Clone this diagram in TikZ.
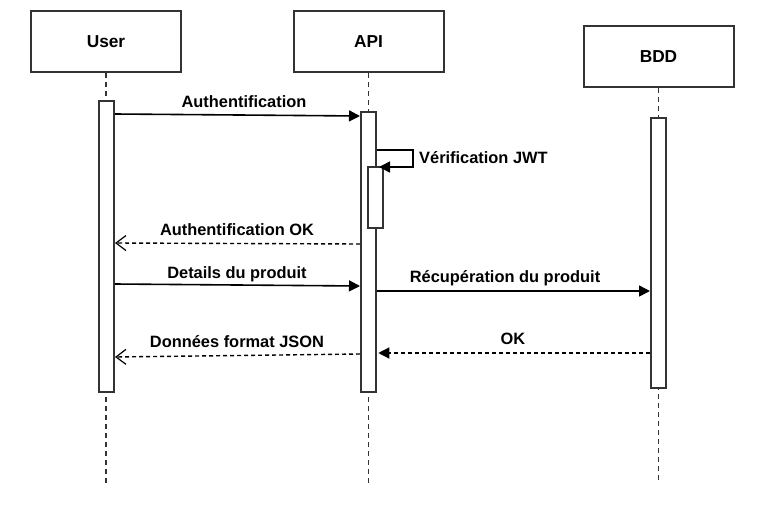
\documentclass[tikz,border=0pt]{standalone}
\usepackage{fontspec}
\setmainfont{Liberation Sans}
\usetikzlibrary{arrows.meta}
\definecolor{boxgray}{HTML}{333333}
\begin{document}
\begin{tikzpicture}[x=1pt,y=-1pt,
  actor/.style={draw=boxgray, line width=2pt, fill=white, minimum width=150pt, minimum height=61pt, inner sep=0pt, font=\bfseries\fontsize{17.3}{20}\selectfont},
  activ/.style={draw=boxgray, line width=2pt, fill=white, minimum width=15pt, inner sep=0pt},
  life/.style={draw=boxgray, line width=1.8pt, dash pattern=on 4.5pt off 4.5pt},
  msg/.style={draw=black, line width=1.6pt, -{Triangle[length=11pt,width=11pt]}},
  retopen/.style={draw=black, line width=1.4pt, dash pattern=on 4pt off 3pt, -{Straight Barb[length=10pt,width=15pt,line width=1.2pt]}},
  retfill/.style={draw=black, line width=1.4pt, dash pattern=on 4pt off 3pt, -{Triangle[length=11pt,width=11pt,sep]}},
  lbl/.style={inner sep=1pt, font=\bfseries\fontsize{16.4}{19}\selectfont}]
\useasboundingbox (0,0) rectangle (764,520);

% actors
\node[actor] (user) at (106,41.5) {User};
\node[actor] (api) at (368.5,41.5) {API};
\node[actor] (bdd) at (658.5,56.5) {BDD};

% lifeline ends
\coordinate (uend) at (106,483);
\coordinate (aend) at (368.5,483);
\coordinate (bend) at (658.5,483);
\draw[life] (user.south) -- (uend);
\draw[life] (api.south) -- (aend);
\draw[life] (bdd.south) -- (bend);

% activations
\node[activ, minimum height=291pt] (ua) at (106.5,246.5) {};
\node[activ, minimum height=280pt] (aa) at (368.5,252) {};
\node[activ, minimum height=61pt] (na) at (375.5,197.5) {};
\node[activ, minimum height=270pt] (ba) at (658.5,253) {};

% messages
\draw[msg] (ua.east |- 0,114) .. controls (240,115) .. (aa.west |- 0,116);
\node[lbl] (l1) at (244,102) {Authentification};

\coordinate (selfa) at (413,150);
\coordinate (selfb) at (413,167);
\draw[msg, shorten >=-5pt] (aa.east |- 0,150) -- (selfa) -- (selfb) -- (na.east |- 0,167);
\node[lbl, anchor=west] (l2) at (418,158) {Vérification JWT};

\draw[retopen] (aa.west |- 0,244) -- (ua.east |- 0,243);
\node[lbl] (l3) at (237,230) {Authentification OK};

\draw[msg] (ua.east |- 0,284) -- (aa.west |- 0,286);
\node[lbl] (l4) at (237,274) {Details du produit};

\draw[msg] (aa.east |- 0,291) -- (ba.west |- 0,291);
\node[lbl] (l5) at (505,278) {Récupération du produit};

\draw[retfill] (ba.west |- 0,353) -- (aa.east |- 0,353);
\node[lbl] (l6) at (513,339) {OK};

\draw[retopen] (aa.west |- 0,354) -- (ua.east |- 0,357);
\node[lbl] (l7) at (237,342) {Données format JSON};
\end{tikzpicture}
\end{document}
